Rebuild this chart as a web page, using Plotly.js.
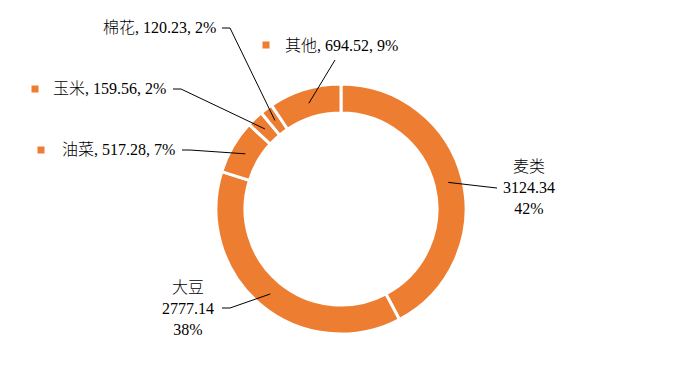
<!DOCTYPE html>
<html>
<head>
<meta charset="utf-8">
<script src="https://cdn.plot.ly/plotly-3.0.1.min.js"></script>
<style>html,body{margin:0;padding:0;background:#fff;}#chart{width:683px;height:371px;}</style>
</head>
<body>
<div id="chart"></div>
<script>
// ---- data ----
const categories = ["麦类", "大豆", "油菜", "玉米", "棉花", "其他"];
const values = [3124.34, 2777.14, 517.28, 159.56, 120.23, 694.52];
const sliceColor = "#ED7D31";

// ---- layout geometry (pixels) ----
const W = 683, H = 371;
const cx = 341, cy = 209, rOuter = 125, rInner = 96;
const rMid = (rOuter + rInner) / 2;
const FONT = "'Liberation Serif', 'Times New Roman', 'Noto Sans CJK SC', serif";

// label placement per slice (layout only): elbow, line end, text anchor, legend key
const labelCfg = [
  {multi: true,  elbow: [488, 187], end: [497, 188], tx: 529, ty: 188, xa: "center"},
  {multi: true,  elbow: [230, 308], end: [222, 308], tx: 188, ty: 308, xa: "center"},
  {multi: false, elbow: [190, 150], end: [182, 150], tx: 177, ty: 150, xa: "right", key: [41, 150]},
  {multi: false, elbow: [181, 89],  end: [173, 89],  tx: 168, ty: 89,  xa: "right", key: [35, 89]},
  {multi: false, elbow: [230, 28],  end: [222, 28],  tx: 218, ty: 28,  xa: "right"},
  {multi: false, elbow: null,       end: [335, 60],  tx: 283, ty: 45,  xa: "left", key: [266, 45]}
];

const px = x => x / W;
const py = y => 1 - y / H;

const total = values.reduce((a, b) => a + b, 0);
const annotations = [];
const shapes = [];
let cum = 0;
values.forEach((v, i) => {
  const frac = v / total;
  const mid = (cum + frac / 2) * 2 * Math.PI;
  cum += frac;
  const sx = cx + rMid * Math.sin(mid);
  const sy = cy - rMid * Math.cos(mid);
  const c = labelCfg[i];
  const pct = Math.round(frac * 100) + "%";
  const txt = c.multi
    ? categories[i] + "<br>" + v.toFixed(2) + "<br>" + pct
    : categories[i] + ", " + v.toFixed(2) + ", " + pct;
  let path = "M " + px(sx) + "," + py(sy);
  if (c.elbow) path += " L " + px(c.elbow[0]) + "," + py(c.elbow[1]);
  path += " L " + px(c.end[0]) + "," + py(c.end[1]);
  shapes.push({type: "path", xref: "paper", yref: "paper", path: path,
    line: {color: "#000000", width: 1}});
  annotations.push({xref: "paper", yref: "paper", x: px(c.tx), y: py(c.ty),
    xanchor: c.xa, yanchor: "middle", showarrow: false, align: "center",
    text: txt, font: {family: FONT, size: 16, color: "#000", weight: 300}});
  if (c.key) {
    shapes.push({type: "rect", xref: "paper", yref: "paper",
      x0: px(c.key[0] - 3.5), x1: px(c.key[0] + 3.5),
      y0: py(c.key[1] + 3.5), y1: py(c.key[1] - 3.5),
      fillcolor: sliceColor, line: {width: 0}});
  }
});

const trace = {
  type: "pie",
  labels: categories,
  values: values,
  sort: false,
  direction: "clockwise",
  rotation: 0,
  hole: rInner / rOuter,
  textinfo: "none",
  hoverinfo: "skip",
  marker: {colors: categories.map(() => sliceColor), line: {color: "#ffffff", width: 3}},
  domain: {x: [px(cx - rOuter), px(cx + rOuter)], y: [py(cy + rOuter), py(cy - rOuter)]},
  showlegend: false
};

const layout = {
  width: W, height: H,
  margin: {l: 0, r: 0, t: 0, b: 0},
  paper_bgcolor: "#ffffff",
  plot_bgcolor: "#ffffff",
  showlegend: false,
  annotations: annotations,
  shapes: shapes
};

Plotly.newPlot("chart", [trace], layout, {displayModeBar: false, staticPlot: true});
</script>
</body>
</html>
